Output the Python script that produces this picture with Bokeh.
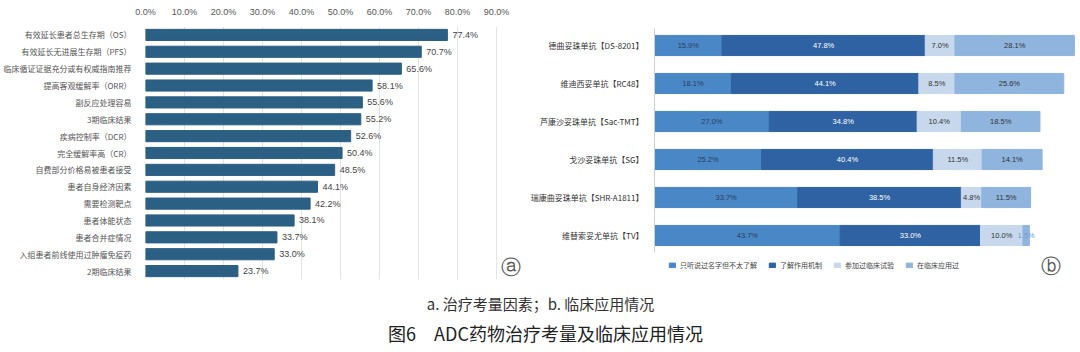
import numpy as np
from bokeh.plotting import figure
from bokeh.models import Range1d, FactorRange, FixedTicker, Label, Legend, LegendItem, ColumnDataSource
from bokeh.layouts import column, row
from bokeh.core.properties import value
from bokeh.embed import file_html
from bokeh.resources import INLINE

# ---------- data (a) ----------
factors = ["有效延长患者总生存期（OS）", "有效延长无进展生存期（PFS）", "临床循证证据充分或有权威指南推荐",
           "提高客观缓解率（ORR）", "副反应处理容易", "3期临床结果", "疾病控制率（DCR）", "完全缓解率高（CR）",
           "自费部分价格易被患者接受", "患者自身经济因素", "需要检测靶点", "患者体能状态", "患者合并症情况",
           "入组患者前线使用过肿瘤免疫药", "2期临床结果"]
factor_vals = [77.4, 70.7, 65.6, 58.1, 55.6, 55.2, 52.6, 50.4, 48.5, 44.1, 42.2, 38.1, 33.7, 33.0, 23.7]
x_ticks = [0, 10, 20, 30, 40, 50, 60, 70, 80, 90]
x_tick_labels = ["0.0%", "10.0%", "20.0%", "30.0%", "40.0%", "50.0%", "60.0%", "70.0%", "80.0%", "90.0%"]

# ---------- data (b) ----------
drugs = ["德曲妥珠单抗【DS-8201】", "维迪西妥单抗【RC48】", "芦康沙妥珠单抗【Sac-TMT】",
         "戈沙妥珠单抗【SG】", "瑞康曲妥珠单抗【SHR-A1811】", "维替索妥尤单抗【TV】"]
series_names = ["只听说过名字但不太了解", "了解作用机制", "参加过临床试验", "在临床应用过"]
s_heard = [15.9, 18.1, 27.0, 25.2, 33.7, 43.7]
s_mech = [47.8, 44.1, 34.8, 40.4, 38.5, 33.0]
s_trial = [7.0, 8.5, 10.4, 11.5, 4.8, 10.0]
s_used = [28.1, 25.6, 18.5, 14.1, 11.5, 1.5]

caption1 = "a. 治疗考量因素；b. 临床应用情况"
caption2 = "图6　ADC药物治疗考量及临床应用情况"

CJK = "Noto Sans CJK SC"

# ---------- figure (a) ----------
p1 = figure(frame_width=376, frame_height=253,
            y_range=FactorRange(*reversed(factors)), x_range=Range1d(0, 96.4),
            x_axis_location="above", output_backend="svg", toolbar_location=None,
            min_border_left=144, min_border_right=0, min_border_top=22, min_border_bottom=10)
p1.outline_line_color = None
src1 = ColumnDataSource(dict(y=factors, v=factor_vals, t=[f"{v:.1f}%" for v in factor_vals]))
p1.hbar(y="y", right="v", height=0.66, source=src1, color="#2c5f84")
p1.text(x="v", y="y", text="t", source=src1, x_offset=5, text_baseline="middle",
        text_font_size="9px", text_color="#444444", text_font=value("Liberation Sans"))
p1.xaxis.ticker = FixedTicker(ticks=x_ticks)
p1.xaxis.major_label_overrides = dict(zip(x_ticks, x_tick_labels))
p1.xaxis.axis_line_color = None
p1.xaxis.major_tick_line_color = None
p1.xaxis.minor_tick_line_color = None
p1.xaxis.major_label_text_font_size = "9px"
p1.xaxis.major_label_text_color = "#555555"
p1.xaxis.major_label_text_font = "Liberation Sans"
p1.xaxis.major_label_standoff = 4
p1.yaxis.axis_line_color = None
p1.yaxis.major_tick_line_color = None
p1.yaxis.major_label_text_font = CJK
p1.yaxis.major_label_text_font_size = "8px"
p1.yaxis.major_label_text_color = "#555555"
p1.yaxis.major_label_standoff = 8
p1.xgrid.grid_line_color = "#e4e4e4"
p1.ygrid.grid_line_color = None
p1.add_layout(Label(x=93.8, y=0.75, text="ⓐ", text_font_size="20px", text_align="center",
                    text_baseline="middle", text_color="#555555", text_font="DejaVu Sans"))

# ---------- figure (b) ----------
n = len(drugs)
ypos = np.arange(n)[::-1].astype(float)   # first drug on top
p2 = figure(frame_width=425, frame_height=259,
            y_range=Range1d(-1.316, n - 0.5), x_range=Range1d(0, 100),
            output_backend="svg", toolbar_location=None,
            min_border_left=133, min_border_right=2, min_border_top=26, min_border_bottom=0)
p2.outline_line_color = None
p2.xaxis.visible = False
p2.grid.grid_line_color = None
p2.yaxis.ticker = FixedTicker(ticks=list(ypos))
p2.yaxis.major_label_overrides = {float(y): d for y, d in zip(ypos, drugs)}
p2.yaxis.bounds = (-0.45, n - 0.55)
p2.yaxis.axis_line_color = "#cfcfcf"
p2.yaxis.major_tick_line_color = None
p2.yaxis.minor_tick_line_color = None
p2.yaxis.major_label_text_font = CJK
p2.yaxis.major_label_text_font_size = "8px"
p2.yaxis.major_label_text_color = "#333333"
p2.yaxis.major_label_standoff = 5

colors = ["#4a87c6", "#2f62a2", "#c7d8ec", "#8fb4de"]
text_colors = ["#2b3f5c", "#ffffff", "#333333", "#333333"]
data = np.array([s_heard, s_mech, s_trial, s_used])
cum = np.cumsum(data, axis=0)
items = []
for i, name in enumerate(series_names):
    right = cum[i]
    left = right - data[i]
    tcols = [("#6f9bd0" if v < 3 else text_colors[i]) for v in data[i]]
    src = ColumnDataSource(dict(y=ypos, left=left, right=right, mid=(left + right) / 2,
                                t=[f"{v:.1f}%" for v in data[i]], tc=tcols))
    r = p2.hbar(y="y", left="left", right="right", height=0.53, source=src, color=colors[i])
    p2.text(x="mid", y="y", text="t", source=src, text_align="center", text_baseline="middle",
            text_font_size="7.5px", text_color="tc", text_font=value("Liberation Sans"))
    items.append(LegendItem(label=name, renderers=[r]))

legend = Legend(items=items, orientation="horizontal", location=(14, 15),
                label_text_font=CJK, label_text_font_size="7px", label_text_color="#444444",
                glyph_width=8, glyph_height=6, label_height=7, label_standoff=4, spacing=11,
                padding=0, margin=0, border_line_color=None, background_fill_alpha=0)
p2.add_layout(legend)
p2.add_layout(Label(x=93.4, y=-0.79, text="ⓑ", text_font_size="20px", text_align="center",
                    text_baseline="middle", text_color="#555555", text_font="DejaVu Sans"))

# ---------- captions ----------
p3 = figure(width=1080, height=67, x_range=Range1d(0, 1080), y_range=Range1d(0, 67),
            output_backend="svg", toolbar_location=None, min_border=0)
p3.axis.visible = False
p3.grid.visible = False
p3.outline_line_color = None
p3.text(x=[540], y=[50], text=[caption1], text_align="center", text_baseline="middle",
        text_font_size="15px", text_color="#333333", text_font=value(CJK))
p3.text(x=[545], y=[21], text=[caption2], text_align="center", text_baseline="middle",
        text_font_size="18px", text_color="#222222", text_font=value(CJK))

layout = column(row(p1, p2), p3)
open("out.html", "w").write(file_html(layout, INLINE))
